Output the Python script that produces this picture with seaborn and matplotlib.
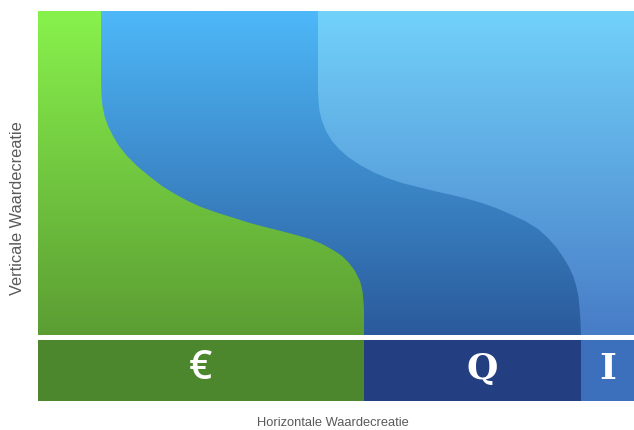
import numpy as np
import matplotlib
matplotlib.use("Agg")
import matplotlib.pyplot as plt
import seaborn as sns
from matplotlib.colors import to_rgb

# ---- data (horizontal position / vertical level) ----
levels_1 = [390, 320, 305, 295, 285, 275, 265, 255, 245, 235, 225, 215, 207,
            200, 194, 188, 183, 178, 174, 170, 166, 162, 157, 151, 145, 138,
            130, 120, 110, 100, 90, 62]
pos_1 = [63, 63, 63.5, 64.5, 66.5, 70, 75, 81, 89, 99, 111, 124, 137,
         150, 163, 180, 196, 212, 227, 243, 258, 272, 284, 295, 304, 311,
         317, 322, 324.5, 325.5, 326, 326]

levels_2 = [390, 310, 300, 290, 280, 270, 260, 252, 244, 236, 229, 223, 218,
            214, 210, 206, 202, 198, 193, 187, 180, 172, 163, 154, 144, 134,
            124, 114, 104, 94, 80, 62]
pos_2 = [280, 280, 280.5, 281.5, 284, 288, 294, 301, 310, 322, 335, 349, 364,
         380, 396, 414, 430, 444, 458, 472, 487, 500, 510, 518, 525, 531,
         535.5, 538.5, 540.5, 541.5, 542.5, 543]

strip_labels = ["€", "Q", "I"]
strip_edges = [0, 326, 543, 596]
strip_colors = ["#4C872D", "#233F82", "#3D70BC"]

x_label = "Horizontale Waardecreatie"
y_label = "Verticale Waardecreatie"

X_MAX, Y_MAX = 596, 390
STRIP_TOP, AREA_BOTTOM = 62, 67

sns.set_theme(style="white")
plt.rcParams['font.family'] = ['Liberation Sans', 'DejaVu Sans']

fig = plt.figure(figsize=(6.34, 4.30), dpi=100)
ax = fig.add_axes([38 / 634, (430 - 401) / 430, 596 / 634, 390 / 430])
ax.set_xlim(0, X_MAX)
ax.set_ylim(0, Y_MAX)
ax.axis('off')


def gradient(top, bottom, clip=None, z=1):
    t = np.linspace(0, 1, 256)[:, None, None]
    a = np.array(to_rgb(top))[None, None, :]
    b = np.array(to_rgb(bottom))[None, None, :]
    img = a * (1 - t) + b * t
    im = ax.imshow(img, extent=[0, X_MAX, STRIP_TOP, Y_MAX], origin='upper',
                   aspect='auto', zorder=z, interpolation='bilinear')
    if clip is not None:
        im.set_clip_path(clip.get_paths()[0], transform=ax.transData)
    return im


# light blue (whole upper area)
gradient("#72D2FA", "#477BC6", z=1)
# mid blue
p2 = ax.fill_betweenx(levels_2, 0, pos_2, color="none", lw=0)
gradient("#4EB8F8", "#2A599A", clip=p2, z=2)
# green
p1 = ax.fill_betweenx(levels_1, 0, pos_1, color="none", lw=0)
gradient("#88F24C", "#5B9C33", clip=p1, z=3)

# bottom strip
for i, lab in enumerate(strip_labels):
    left, right = strip_edges[i], strip_edges[i + 1]
    ax.barh(STRIP_TOP / 2, right - left, left=left, height=STRIP_TOP,
            color=strip_colors[i], zorder=4, linewidth=0)
    xc = (left + right) / 2
    if lab == "€":
        fam, xc, w, fs = ['Open Sans', 'DejaVu Sans'], 162, 'semibold', 29
    elif lab == "Q":
        fam, xc, w, fs = ['DejaVu Serif'], 444, 'bold', 26
    else:
        fam, w, fs = ['DejaVu Serif'], 'bold', 26
    ax.text(xc, STRIP_TOP / 2 + 1, lab, color="white", fontsize=fs,
            fontweight=w, ha="center", va="center", family=fam, zorder=6)

# white separator line
sns.lineplot(x=[0, X_MAX], y=[(STRIP_TOP + AREA_BOTTOM) / 2] * 2, color="white",
             linewidth=3.6, ax=ax, zorder=5)
ax.set_xlim(0, X_MAX)
ax.set_ylim(0, Y_MAX)
ax.axis('off')

fig.text(18 / 634, 1 - 208 / 430, y_label, rotation=90, ha="center", va="center",
         fontsize=11.8, color="#5a5a5a")
fig.text(333 / 634, 1 - 423 / 430, x_label, ha="center", va="center",
         fontsize=9.3, color="#5a5a5a")

fig.savefig("out.png", dpi=100)
